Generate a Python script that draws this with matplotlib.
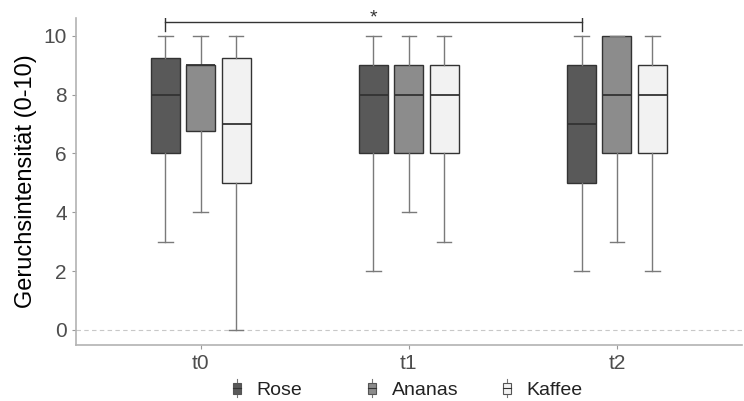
import matplotlib.pyplot as plt
from matplotlib.legend_handler import HandlerBase
from matplotlib.patches import Rectangle
from matplotlib.lines import Line2D

plt.rcParams['font.family'] = ['Liberation Sans', 'DejaVu Sans']

# Data
times = ['t0', 't1', 't2']
series = ['Rose', 'Ananas', 'Kaffee']
colors = ['#595959', '#8c8c8c', '#f2f2f2']

whislo = {'Rose': [3, 2, 2], 'Ananas': [4, 4, 3], 'Kaffee': [0, 3, 2]}
q1 = {'Rose': [6, 6, 5], 'Ananas': [6.75, 6, 6], 'Kaffee': [5, 6, 6]}
med = {'Rose': [8, 8, 7], 'Ananas': [9, 8, 8], 'Kaffee': [7, 8, 8]}
q3 = {'Rose': [9.25, 9, 9], 'Ananas': [9, 9, 10], 'Kaffee': [9.25, 9, 9]}
whishi = {'Rose': [10, 10, 10], 'Ananas': [10, 10, 10], 'Kaffee': [10, 10, 10]}

fig = plt.figure(figsize=(7.44, 4.01), dpi=100)
ax = fig.add_axes([0.102, 0.14, 0.895, 0.815])

offsets = [-0.17, 0, 0.17]
for s, off, c in zip(series, offsets, colors):
    stats = []
    for i in range(len(times)):
        stats.append({'whislo': whislo[s][i], 'q1': q1[s][i], 'med': med[s][i],
                      'q3': q3[s][i], 'whishi': whishi[s][i], 'fliers': []})
    pos = [i + 1 + off for i in range(len(times))]
    ax.bxp(stats, positions=pos, widths=0.14, patch_artist=True, showfliers=False,
           boxprops=dict(facecolor=c, edgecolor='#333333', linewidth=1.0),
           medianprops=dict(color='#333333', linewidth=1.3),
           whiskerprops=dict(color='#7a7a7a', linewidth=1.0),
           capprops=dict(color='#7a7a7a', linewidth=1.0),
           capwidths=0.07, manage_ticks=False)

ax.axhline(0, color='#c8c8c8', linestyle=(0, (4, 3)), linewidth=0.8, zorder=0)

# significance bracket Rose t0 vs Rose t2
x1, x2, yb = 1 - 0.17, 3 - 0.17, 10.45
ax.plot([x1, x2], [yb, yb], color='#333333', linewidth=1.0)
ax.plot([x1, x1], [yb - 0.3, yb + 0.2], color='#333333', linewidth=1.0)
ax.plot([x2, x2], [yb - 0.3, yb + 0.2], color='#333333', linewidth=1.0)
ax.text((x1 + x2) / 2, yb - 0.12, '*', ha='center', va='bottom', fontsize=14, color='#333333')

ax.set_xlim(0.4, 3.6)
ax.set_ylim(-0.51, 10.6)
ax.set_xticks([1, 2, 3])
ax.set_xticklabels(times)
ax.set_yticks([0, 2, 4, 6, 8, 10])
ax.tick_params(axis='both', colors='#999999', labelcolor='#4d4d4d', labelsize=15,
               length=3, width=0.8)
for sp in ['top', 'right']:
    ax.spines[sp].set_visible(False)
for sp in ['left', 'bottom']:
    ax.spines[sp].set_color('#b3b3b3')
    ax.spines[sp].set_linewidth(1.2)
ax.set_ylabel('Geruchsintensität (0-10)', fontsize=17, color='black', labelpad=5)


class BoxHandler(HandlerBase):
    def create_artists(self, legend, orig_handle, xd, yd, width, height, fontsize, trans):
        cx = xd + width / 2
        bw = width * 0.5
        r = Rectangle((cx - bw / 2, yd + height * 0.1), bw, height * 0.8,
                      facecolor=orig_handle.get_facecolor(), edgecolor='#555555',
                      linewidth=0.8, transform=trans)
        m = Line2D([cx - bw / 2, cx + bw / 2], [yd + height * 0.5] * 2,
                   color='#333333', linewidth=0.8, transform=trans)
        w = Line2D([cx, cx], [yd - height * 0.15, yd + height * 1.15],
                   color='#777777', linewidth=0.8, transform=trans)
        return [w, r, m]


# one legend entry per column, evenly spaced like the reference
legend_x = [0.307, 0.489, 0.670]
for s, c, lx in zip(series, colors, legend_x):
    h = Rectangle((0, 0), 1, 1, facecolor=c)
    fig.legend([h], [s], handler_map={Rectangle: BoxHandler()}, loc='center left',
               bbox_to_anchor=(lx, 0.027), frameon=False, fontsize=14,
               handlelength=0.85, handletextpad=0.6, borderpad=0, borderaxespad=0,
               labelcolor='#222222')

fig.savefig('out.png', dpi=100)
